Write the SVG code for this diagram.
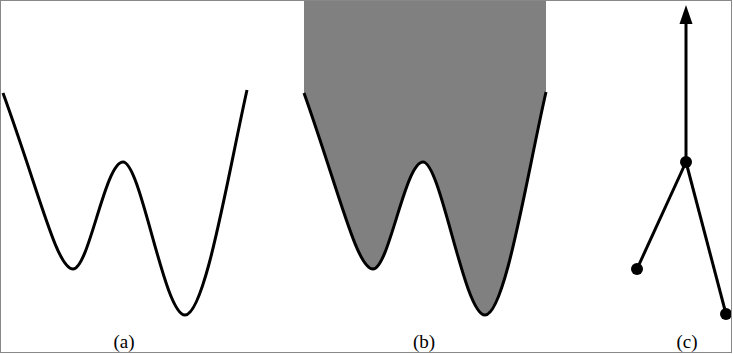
<svg xmlns="http://www.w3.org/2000/svg" width="733" height="354" viewBox="0 0 733 354">
<style>
.curve{fill:none;stroke:#000;stroke-width:3;stroke-linejoin:round}
.edge{stroke:#000;stroke-width:3;fill:none}
.dot{fill:#000}
.head{fill:#000}
.lbl{font-family:"Liberation Serif",serif;font-size:19px;fill:#000;text-anchor:middle}
</style>
<rect x="0" y="0" width="733" height="354" fill="#fff"/>
<g id="panel-a">
<path class="curve" d="M3,93 C40,195 57,269 73,269 C89,269 105,162 123,162 C141,162 164,315 185,315 C205,315 228,175 247,90"/>
<text class="lbl" x="124" y="348">(a)</text>
</g>
<g id="panel-b">
<path d="M304,0 L546,0 L546,92 C527,175 505,315 485,315 C464,315 441,162 423,162 C405,162 389,269 373,269 C357,269 340,195 304,93 Z" fill="#808080"/>
<path class="curve" d="M304,93 C340,195 357,269 373,269 C389,269 405,162 423,162 C441,162 464,315 485,315 C505,315 527,175 546,92"/>
<text class="lbl" x="424" y="348">(b)</text>
</g>
<g id="connectors">
<line class="edge" x1="686" y1="162" x2="686" y2="22"/>
<path class="head" d="M679.5,24 L686,5 L692.5,24 Z"/>
<line class="edge" x1="686" y1="162" x2="637" y2="269"/>
<line class="edge" x1="686" y1="162" x2="726" y2="314"/>
</g>
<g id="node-top"><circle class="dot" cx="686" cy="162" r="6"/></g>
<g id="node-left"><circle class="dot" cx="637" cy="269" r="6"/></g>
<g id="node-right"><circle class="dot" cx="726" cy="314" r="6"/></g>
<text class="lbl" x="687" y="348">(c)</text>
<rect x="0.5" y="0.5" width="731" height="352" fill="none" stroke="#888" stroke-width="1"/>
</svg>
